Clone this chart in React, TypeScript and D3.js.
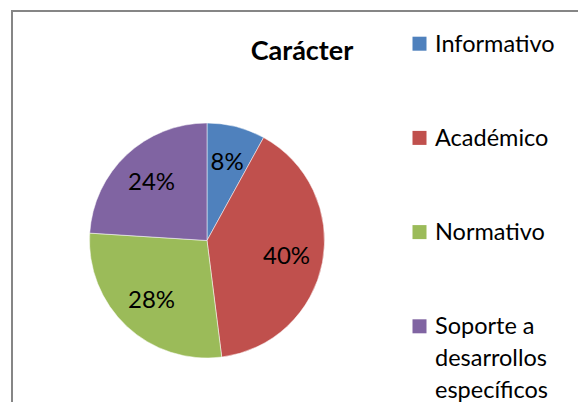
import React from "react";
import * as d3 from "d3";

const categories = ["Informativo", "Académico", "Normativo", "Soporte a desarrollos específicos"];
const values = [8, 40, 28, 24];
const colors = ["#4F81BD", "#C0504D", "#9BBB59", "#8064A2"];
const legendLines = [["Informativo"], ["Académico"], ["Normativo"], ["Soporte a", "desarrollos", "específicos"]];
const title = "Carácter";

const W = 578, H = 402;
const FONT = "Lato, 'Open Sans', sans-serif";

export default function App() {
  const cx = 207, cy = 240.5, r = 117.5;
  const pie = d3.pie<number>().sort(null).value((d) => d)(values);
  const arc = d3.arc<d3.PieArcDatum<number>>().innerRadius(0).outerRadius(r);
  const total = d3.sum(values);
  const legendY = d3.scaleLinear().domain([0, 3]).range([36.7, 319.3]);

  return (
    <svg width={W} height={H} style={{ position: "absolute", left: 0, top: 0 }} fontFamily={FONT}>
      <rect x={0} y={0} width={W} height={H} fill="#fff" />
      <rect x={12} y={11} width={W + 20} height={H + 20} fill="none" stroke="#868686" strokeWidth={2} />
      <text x={302} y={60} textAnchor="middle" fontWeight="bold" fontSize={27} fill="#000">{title}</text>
      <g transform={`translate(${cx},${cy})`}>
        {pie.map((d, i) => (
          <path key={i} d={arc(d) || ""} fill={colors[i]} stroke="#fff" strokeWidth={0.5} />
        ))}
        {pie.map((d, i) => {
          const a = (d.startAngle + d.endAngle) / 2;
          const lr = 81;
          const x = Math.sin(a) * lr;
          const y = -Math.cos(a) * lr;
          return (
            <text key={"l" + i} x={x} y={y} dy="0.35em" textAnchor="middle" fontSize={24} fill="#000">
              {`${Math.round((values[i] / total) * 100)}%`}
            </text>
          );
        })}
      </g>
      {categories.map((c, i) => (
        <g key={c}>
          <rect x={412.5} y={legendY(i)} width={14} height={14} fill={colors[i]} />
          <text x={435} y={legendY(i) + 15} fontSize={23.5} fill="#000">
            {legendLines[i].map((ln, j) => (
              <tspan key={j} x={435} dy={j === 0 ? 0 : 32}>{ln}</tspan>
            ))}
          </text>
        </g>
      ))}
    </svg>
  );
}
